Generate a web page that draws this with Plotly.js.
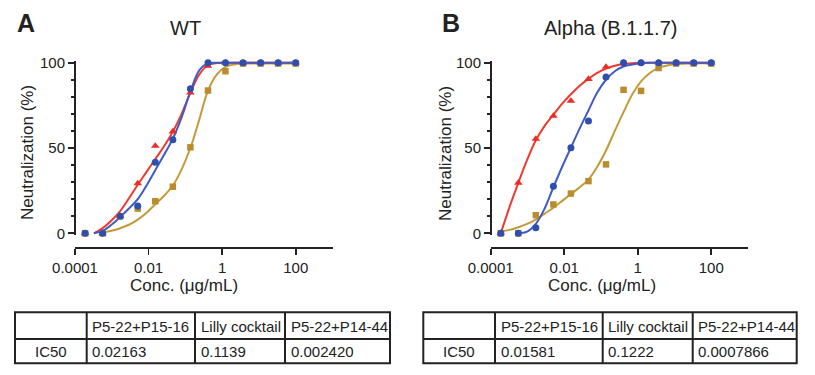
<!DOCTYPE html>
<html>
<head>
<meta charset="utf-8">
<script src="https://cdn.plot.ly/plotly-3.0.1.min.js"></script>
<style>html,body{margin:0;padding:0;background:#fff;}#chart{width:815px;height:375px;}</style>
</head>
<body>
<div id="chart"></div>
<script>
// ---- data ----
var panelTitles = ["WT", "Alpha (B.1.1.7)"];
var panelLetters = ["A", "B"];

// measured concentrations (µg/mL), 3-fold dilutions
var conc = [0.000188, 0.000564, 0.00169, 0.00508, 0.0152, 0.0457, 0.137, 0.412, 1.23, 3.70, 11.1, 33.3, 100];

// panel A (WT) measured neutralization (%)
var aBlue = [0, 0, 10, 16, 41.6, 54.9, 84.7, 100, 100, 100, 100, 100, 100];
var aRed  = [0, 0, 10, 29.2, 51.2, 59.6, 82.5, 98.2, 100, 100, 100, 100, 100];
var aGold = [0, 0, 10, 14.5, 18.8, 27.3, 50.4, 83.7, 95, 99.5, 99.5, 99.5, 99.5];

// panel B (Alpha) measured neutralization (%)
var bBlue = [0, 0, 3.3, 27.6, 50.2, 65.9, 91.6, 100, 100, 100, 100, 100, 100];
var bRed  = [0, 29.6, 55.3, 68.8, 77.6, 90.4, 97.5, 100, 100, 100, 100, 100, 100];
var bGold = [0, 0, 10.6, 16.9, 23.3, 30.6, 40.4, 84.1, 83.5, 96.9, 99.5, 99.5, 99.5];

// fitted curves at these concentrations
var fitConc = [0.000188, 0.000326, 0.000564, 0.000978, 0.00169, 0.00293, 0.00508, 0.0088, 0.0152, 0.0264, 0.0457, 0.0792, 0.137, 0.238, 0.411, 0.713, 1.23, 2.14, 3.70, 11.1, 33.3, 100];
var aRedFit  = [null, 0, 3, 7.5, 13, 20.5, 28.5, 36, 43.5, 51, 59.5, 70, 82.5, 93, 98.5, 99.8, 100, 100, 100, 100, 100, 100];
var aBlueFit = [null, 0, 1.5, 5, 9.5, 14.5, 20, 28, 37, 46, 55.5, 68, 83, 95.5, 99.6, 100, 100, 100, 100, 100, 100, 100];
var aGoldFit = [null, null, 0.5, 1.5, 3, 5, 8, 12, 17, 22, 28, 37.5, 50, 66.5, 83.5, 93, 97.5, 99, 99.5, 99.6, 99.6, 99.6];
var bRedFit  = [0, 15.5, 29.6, 43, 54.5, 63, 69.5, 76, 81.5, 86.5, 90.5, 94, 96.5, 98.2, 99.2, 99.7, 100, 100, 100, 100, 100, 100];
var bBlueFit = [null, null, 0, 1, 5.5, 14.5, 27, 39, 50.2, 61.5, 72, 82.5, 90, 95, 97.8, 99, 99.7, 100, 100, 100, 100, 100];
var bGoldFit = [1, 2, 3.5, 5.5, 8, 11.5, 15, 19, 23, 27, 31.5, 39, 48.5, 60, 71, 81.5, 89, 94, 97, 99.2, 99.6, 99.6];

// IC50 tables
var tableHeader = ["", "P5-22+P15-16", "Lilly cocktail", "P5-22+P14-44"];
var rowLabel = "IC50";
var ic50A = ["0.02163", "0.1139", "0.002420"];
var ic50B = ["0.01581", "0.1222", "0.0007866"];

var xTickVals = [0.0001, 0.01, 1, 100];
var xTickText = ["0.0001", "0.01", "1", "100"];
var yTickVals = [0, 50, 100];
var yTickText = ["0", "50", "100"];
var yMinorVals = [10, 20, 30, 40, 60, 70, 80, 90];

// ---- styling ----
var W = 815, H = 375;
var FONT = "Liberation Sans, Arial, Helvetica, sans-serif";
var INK = "#222222";
var cRed = "#EC2D25", cBlue = "#2F4FAE", cGold = "#B98D2B";
var lRed = "#EE3A2E", lBlue = "#3E5CC4", lGold = "#C49A38";

function px(x) { return x / W; }
function py(y) { return 1 - y / H; }

var traces = [];
function addPanel(xa, ya, blue, red, gold, blueFit, redFit, goldFit) {
  var fits = [[goldFit, lGold], [redFit, lRed], [blueFit, lBlue]];
  fits.forEach(function (f) {
    traces.push({x: fitConc, y: f[0], xaxis: xa, yaxis: ya, type: "scatter", mode: "lines",
      line: {color: f[1], width: 2, shape: "spline", smoothing: 1}, connectgaps: false, hoverinfo: "skip"});
  });
  traces.push({x: conc, y: gold, xaxis: xa, yaxis: ya, type: "scatter", mode: "markers", cliponaxis: false,
    marker: {symbol: "square", size: 6.5, color: cGold}});
  traces.push({x: conc, y: red, xaxis: xa, yaxis: ya, type: "scatter", mode: "markers", cliponaxis: false,
    marker: {symbol: "triangle-up", size: 7.5, color: cRed}});
  traces.push({x: conc, y: blue, xaxis: xa, yaxis: ya, type: "scatter", mode: "markers", cliponaxis: false,
    marker: {symbol: "circle", size: 7, color: cBlue}});
}
addPanel("x", "y", aBlue, aRed, aGold, aBlueFit, aRedFit, aGoldFit);
addPanel("x2", "y2", bBlue, bRed, bGold, bBlueFit, bRedFit, bGoldFit);

function ann(text, x, y, size, opts) {
  var a = {text: text, x: px(x), y: py(y), xref: "paper", yref: "paper", showarrow: false,
    xanchor: "center", yanchor: "middle", font: {family: FONT, size: size, color: INK}};
  if (opts) for (var k in opts) a[k] = opts[k];
  return a;
}

var shapes = [];
var annotations = [
  ann("<b>" + panelLetters[0] + "</b>", 26, 23, 25),
  ann("<b>" + panelLetters[1] + "</b>", 451, 23, 25),
  ann(panelTitles[0], 185, 28, 20),
  ann(panelTitles[1], 610, 28, 20),
  ann("Conc. (\u03bcg/mL)", 184, 285, 17),
  ann("Conc. (\u03bcg/mL)", 602, 285, 17),
  ann("Neutralization (%)", 28, 153, 17, {textangle: -90}),
  ann("Neutralization (%)", 446, 153, 17, {textangle: -90})
];

// IC50 table drawn with shapes + annotations
function addTable(colEdges, values) {
  var top = 312.3, mid = 339, bot = 363.3;
  var line = {color: INK, width: 2};
  shapes.push({type: "rect", xref: "paper", yref: "paper", x0: px(colEdges[0]), x1: px(colEdges[4]),
    y0: py(bot), y1: py(top), line: line});
  shapes.push({type: "line", xref: "paper", yref: "paper", x0: px(colEdges[0]), x1: px(colEdges[4]),
    y0: py(mid), y1: py(mid), line: line});
  for (var i = 1; i < 4; i++) {
    shapes.push({type: "line", xref: "paper", yref: "paper", x0: px(colEdges[i]), x1: px(colEdges[i]),
      y0: py(bot), y1: py(top), line: line});
    annotations.push(ann(tableHeader[i], colEdges[i] + 3.5, 326.8, 15, {xanchor: "left"}));
    annotations.push(ann(values[i - 1], colEdges[i] + 3.5, 351.2, 15, {xanchor: "left"}));
  }
  annotations.push(ann(rowLabel, (colEdges[0] + colEdges[1]) / 2, 351.2, 15));
}
addTable([15, 86.7, 195, 285, 390], ic50A);
addTable([423.3, 495, 602.7, 692.7, 796.7], ic50B);

function xAxis(x0, x1) {
  return {type: "log", range: [-4, 3], domain: [px(x0), px(x1)], anchor: "free", position: py(247),
    showline: true, linecolor: INK, linewidth: 1.8, ticks: "outside", ticklen: 6, tickwidth: 1.8, tickcolor: INK,
    tickvals: xTickVals, ticktext: xTickText, tickfont: {family: FONT, size: 15, color: INK},
    showgrid: false, zeroline: false, fixedrange: true};
}
function yAxis(xpos) {
  return {range: [-1, 101], domain: [py(235.0), py(61.0)], anchor: "free", position: px(xpos),
    showline: true, linecolor: INK, linewidth: 1.8, ticks: "outside", ticklen: 6, tickwidth: 1.8, tickcolor: INK,
    tickvals: yTickVals, ticktext: yTickText, tickfont: {family: FONT, size: 15, color: INK},
    minor: {tickvals: yMinorVals, ticks: "outside", ticklen: 3.5, tickwidth: 1.6, tickcolor: INK},
    showgrid: false, zeroline: false, fixedrange: true};
}

var layout = {
  width: W, height: H, margin: {l: 0, r: 0, t: 0, b: 0},
  paper_bgcolor: "#ffffff", plot_bgcolor: "rgba(0,0,0,0)", showlegend: false,
  xaxis: xAxis(75, 332.5), yaxis: yAxis(74),
  xaxis2: xAxis(490.7, 748), yaxis2: yAxis(490),
  shapes: shapes,
  annotations: annotations
};

Plotly.newPlot("chart", traces, layout, {displayModeBar: false, staticPlot: true});
</script>
</body>
</html>
